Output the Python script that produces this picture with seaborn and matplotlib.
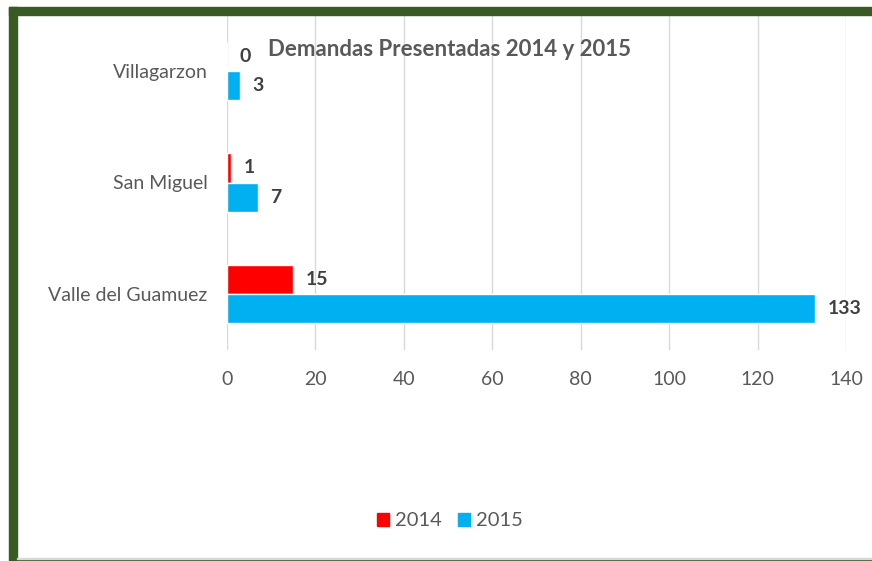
import matplotlib.pyplot as plt
import pandas as pd
import seaborn as sns
from matplotlib.patches import Rectangle

# datos del grafico
municipios = ['Villagarzon', 'San Miguel', 'Valle del Guamuez']
demandas_2014 = [0, 1, 15]
demandas_2015 = [3, 7, 133]
anios = ['2014', '2015']
x_ticks = [0, 20, 40, 60, 80, 100, 120, 140]

df = pd.DataFrame({
    'municipio': municipios * 2,
    'anio': ['2014'] * 3 + ['2015'] * 3,
    'valor': demandas_2014 + demandas_2015,
})

sns.set_style('white')
plt.rcParams['font.family'] = ['Lato', 'DejaVu Sans']

fig = plt.figure(figsize=(8.72, 5.61), dpi=100)
ax = fig.add_axes([227 / 872, 1 - 350 / 561, 619 / 872, 335 / 561])

colores = {'2014': '#ff0000', '2015': '#00b0f0'}
sns.barplot(data=df, y='municipio', x='valor', hue='anio', order=municipios,
            hue_order=anios, palette=colores, orient='h', width=0.52,
            saturation=1, ax=ax, legend=False)

for cont in ax.containers:
    ax.bar_label(cont, padding=9, fontsize=14, fontweight='bold', color='#404040')

ax.set_xlim(0, 140)
ax.set_ylim(2.5, -0.5)
ax.set_xticks(x_ticks)
ax.grid(axis='x', color='#d9d9d9', linewidth=1)
ax.set_axisbelow(True)
for s in ax.spines.values():
    s.set_visible(False)
ax.tick_params(axis='both', length=0, labelcolor='#595959')
ax.tick_params(axis='x', pad=15, labelsize=14)
ax.tick_params(axis='y', pad=14, labelsize=14)
ax.set_xlabel('')
ax.set_ylabel('')

fig.text(450 / 872, 1 - 50 / 561, 'Demandas Presentadas 2014 y 2015',
         ha='center', va='center', fontsize=16, fontweight='bold', color='#595959')

handles = [Rectangle((0, 0), 1, 1, color=colores[a]) for a in anios]
fig.legend(handles, anios, loc='center', bbox_to_anchor=(450 / 872, 1 - 521 / 561),
           ncol=2, frameon=False, fontsize=14.5, labelcolor='#595959',
           handlelength=0.6, handleheight=0.6, handletextpad=0.3, columnspacing=0.8)

# marco verde
verde = '#3a5a24'
fig.add_artist(Rectangle((9 / 872, 1 - 15 / 561), 1, 8 / 561, transform=fig.transFigure,
                         color=verde, zorder=10))
fig.add_artist(Rectangle((9 / 872, 0), 8 / 872, 1 - 7 / 561, transform=fig.transFigure,
                         color=verde, zorder=10))
fig.add_artist(Rectangle((17 / 872, 0), 1, 2 / 561, transform=fig.transFigure,
                         color=verde, zorder=10))
fig.add_artist(Rectangle((17 / 872, 2 / 561), 1, 1.5 / 561, transform=fig.transFigure,
                         color='#d8d8d8', zorder=10))

fig.savefig('out.png', dpi=100)
